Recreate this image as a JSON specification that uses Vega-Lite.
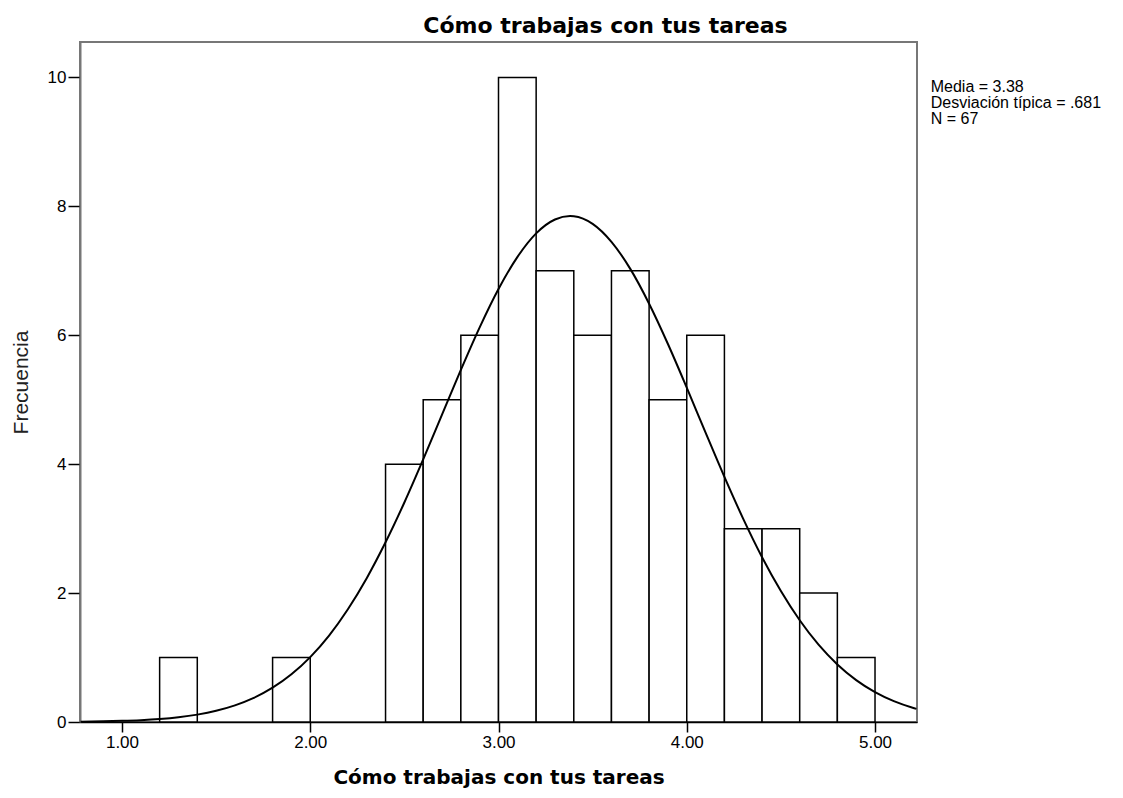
{
  "$schema": "https://vega.github.io/schema/vega-lite/v6.json",
  "autosize": {"type": "none"},
  "width": 837,
  "height": 680,
  "padding": {"left": 80, "top": 42, "right": 206, "bottom": 76},
  "background": "white",
  "title": {
    "text": "Cómo trabajas con tus tareas",
    "font": "DejaVu Sans",
    "fontSize": 22,
    "fontWeight": "bold",
    "color": "black",
    "anchor": "middle",
    "baseline": "alphabetic",
    "offset": 10,
    "dx": 107,
    "dy": 23
  },
  "datasets": {
    "bins": [
      {"bin_start": 1.2, "bin_end": 1.4, "count": 1},
      {"bin_start": 1.8, "bin_end": 2.0, "count": 1},
      {"bin_start": 2.4, "bin_end": 2.6, "count": 4},
      {"bin_start": 2.6, "bin_end": 2.8, "count": 5},
      {"bin_start": 2.8, "bin_end": 3.0, "count": 6},
      {"bin_start": 3.0, "bin_end": 3.2, "count": 10},
      {"bin_start": 3.2, "bin_end": 3.4, "count": 7},
      {"bin_start": 3.4, "bin_end": 3.6, "count": 6},
      {"bin_start": 3.6, "bin_end": 3.8, "count": 7},
      {"bin_start": 3.8, "bin_end": 4.0, "count": 5},
      {"bin_start": 4.0, "bin_end": 4.2, "count": 6},
      {"bin_start": 4.2, "bin_end": 4.4, "count": 3},
      {"bin_start": 4.4, "bin_end": 4.6, "count": 3},
      {"bin_start": 4.6, "bin_end": 4.8, "count": 2},
      {"bin_start": 4.8, "bin_end": 5.0, "count": 1}
    ],
    "curve": [
      {"x": 0.78, "y": 0.0054},
      {"x": 0.9, "y": 0.0104},
      {"x": 1.0, "y": 0.0175},
      {"x": 1.1, "y": 0.0289},
      {"x": 1.2, "y": 0.0468},
      {"x": 1.3, "y": 0.074},
      {"x": 1.4, "y": 0.1146},
      {"x": 1.5, "y": 0.1737},
      {"x": 1.6, "y": 0.258},
      {"x": 1.7, "y": 0.374},
      {"x": 1.8, "y": 0.532},
      {"x": 1.9, "y": 0.74},
      {"x": 2.0, "y": 1.007},
      {"x": 2.1, "y": 1.341},
      {"x": 2.2, "y": 1.75},
      {"x": 2.3, "y": 2.232},
      {"x": 2.4, "y": 2.788},
      {"x": 2.5, "y": 3.406},
      {"x": 2.6, "y": 4.074},
      {"x": 2.7, "y": 4.769},
      {"x": 2.8, "y": 5.462},
      {"x": 2.9, "y": 6.123},
      {"x": 3.0, "y": 6.718},
      {"x": 3.1, "y": 7.213},
      {"x": 3.2, "y": 7.581},
      {"x": 3.3, "y": 7.796},
      {"x": 3.38, "y": 7.85},
      {"x": 3.4, "y": 7.847},
      {"x": 3.5, "y": 7.729},
      {"x": 3.6, "y": 7.45},
      {"x": 3.7, "y": 7.03},
      {"x": 3.8, "y": 6.49},
      {"x": 3.9, "y": 5.865},
      {"x": 4.0, "y": 5.187},
      {"x": 4.1, "y": 4.489},
      {"x": 4.2, "y": 3.803},
      {"x": 4.3, "y": 3.152},
      {"x": 4.4, "y": 2.557},
      {"x": 4.5, "y": 2.031},
      {"x": 4.6, "y": 1.578},
      {"x": 4.7, "y": 1.2},
      {"x": 4.8, "y": 0.893},
      {"x": 4.9, "y": 0.65},
      {"x": 5.0, "y": 0.463},
      {"x": 5.1, "y": 0.323},
      {"x": 5.2, "y": 0.221},
      {"x": 5.22, "y": 0.204}
    ],
    "stats": [
      {"label": "Media = 3.38\nDesviación típica = .681\nN = 67"}
    ]
  },
  "layer": [
    {
      "data": {"name": "bins"},
      "mark": {"type": "rect", "fill": "white", "stroke": "black", "strokeWidth": 1.5},
      "encoding": {
        "x": {
          "field": "bin_start",
          "type": "quantitative",
          "scale": {"domain": [0.777, 5.223], "nice": false, "zero": false},
          "axis": {
            "title": "Cómo trabajas con tus tareas",
            "values": [1, 2, 3, 4, 5],
            "format": ".2f",
            "grid": false,
            "domainColor": "black",
            "domainWidth": 1.5,
            "tickColor": "black",
            "tickWidth": 1.5,
            "tickSize": 10,
            "labelPadding": 2,
            "labelFont": "Liberation Sans",
            "labelFontSize": 17,
            "labelColor": "black",
            "titleFont": "DejaVu Sans",
            "titleFontSize": 20,
            "titleFontWeight": "bold",
            "titleColor": "black",
            "titlePadding": 17
          }
        },
        "x2": {"field": "bin_end"},
        "y": {
          "field": "count",
          "type": "quantitative",
          "scale": {"domain": [0, 10.55], "nice": false},
          "axis": {
            "title": "Frecuencia",
            "values": [0, 2, 4, 6, 8, 10],
            "format": "d",
            "grid": false,
            "domainColor": "#777777",
            "domainWidth": 2,
            "tickColor": "black",
            "tickWidth": 1.5,
            "tickSize": 12,
            "labelPadding": 2,
            "labelFont": "Liberation Sans",
            "labelFontSize": 17,
            "labelColor": "black",
            "titleFont": "Liberation Sans",
            "titleFontSize": 21,
            "titleFontWeight": "normal",
            "titleColor": "#222222",
            "titlePadding": 16
          }
        },
        "y2": {"datum": 0}
      }
    },
    {
      "data": {"name": "curve"},
      "mark": {"type": "line", "color": "black", "strokeWidth": 2, "interpolate": "monotone"},
      "encoding": {
        "x": {"field": "x", "type": "quantitative"},
        "y": {"field": "y", "type": "quantitative"}
      }
    },
    {
      "data": {"name": "stats"},
      "mark": {
        "type": "text",
        "align": "left",
        "baseline": "top",
        "lineBreak": "\n",
        "lineHeight": 16,
        "font": "Liberation Sans",
        "fontSize": 16,
        "color": "black"
      },
      "encoding": {
        "x": {"datum": 5.296},
        "y": {"datum": 9.98},
        "text": {"field": "label"}
      }
    }
  ],
  "config": {
    "view": {"stroke": "#777777", "strokeWidth": 2},
    "axis": {"grid": false}
  }
}
